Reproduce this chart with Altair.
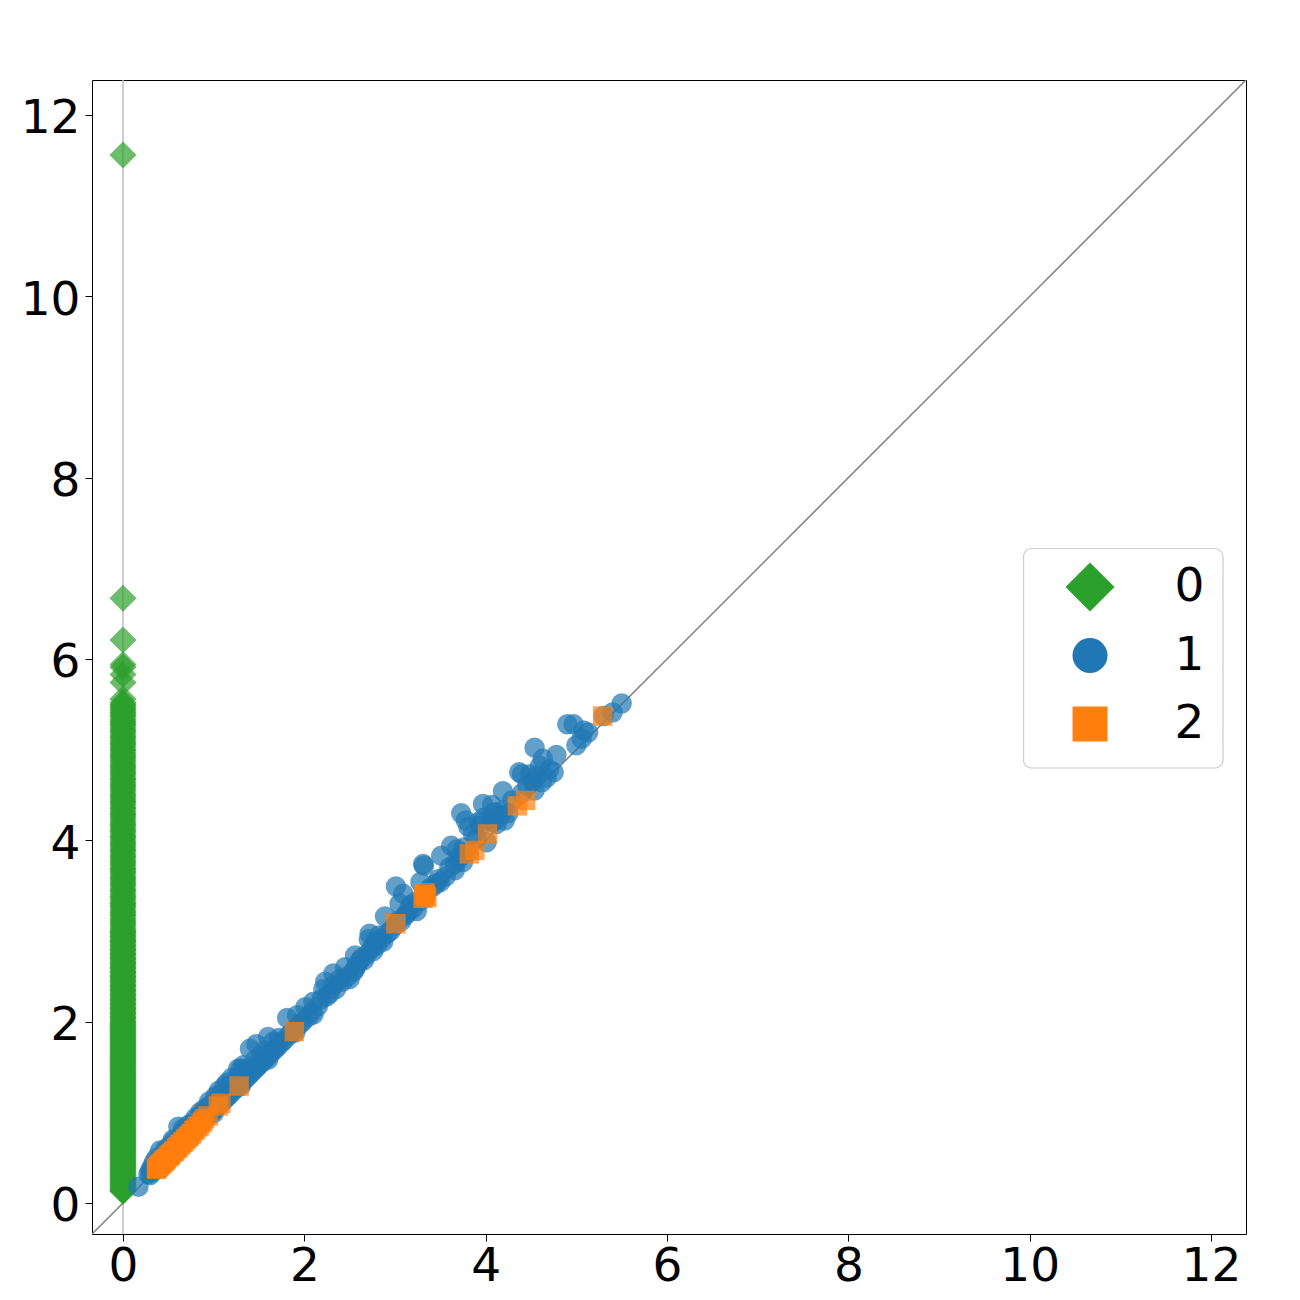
import altair as alt
import pandas as pd

XMIN, XMAX = -0.342, 12.386
TICKS = [0, 2, 4, 6, 8, 10, 12]
FONT = "DejaVu Sans"

green_y = [
 11.56, 6.67, 6.21, 5.94, 5.91, 5.83, 5.74, 5.56, 5.52, 5.49, 5.46, 5.43, 5.40, 5.37, 5.33, 5.30, 5.27, 5.23, 5.20, 5.16,
 5.13, 5.09, 5.06, 5.02, 4.99, 4.95, 4.92, 4.88, 4.84, 4.81, 4.77, 4.74, 4.70, 4.67, 4.63, 4.60, 4.56, 4.52, 4.49, 4.45,
 4.42, 4.38, 4.35, 4.31, 4.28, 4.24, 4.20, 4.17, 4.13, 4.10, 4.06, 4.03, 3.99, 3.96, 3.92, 3.89, 3.85, 3.82, 3.78, 3.75,
 3.71, 3.68, 3.65, 3.61, 3.58, 3.54, 3.51, 3.47, 3.44, 3.40, 3.37, 3.33, 3.30, 3.27, 3.23, 3.20, 3.17, 3.13, 3.10, 3.07,
 3.03, 3.00, 2.98, 2.95, 2.93, 2.90, 2.88, 2.85, 2.83, 2.80, 2.78, 2.75, 2.73, 2.70, 2.68, 2.65, 2.63, 2.60, 2.58, 2.55,
 2.53, 2.50, 2.48, 2.45, 2.43, 2.40, 2.38, 2.35, 2.33, 2.30, 2.28, 2.25, 2.23, 2.20, 2.18, 2.15, 2.13, 2.10, 2.08, 2.05,
 2.03, 2.00, 1.98, 1.96, 1.94, 1.92, 1.90, 1.88, 1.86, 1.84, 1.82, 1.80, 1.78, 1.76, 1.74, 1.72, 1.70, 1.68, 1.66, 1.64,
 1.62, 1.60, 1.58, 1.56, 1.54, 1.52, 1.50, 1.48, 1.46, 1.44, 1.42, 1.40, 1.38, 1.36, 1.34, 1.32, 1.30, 1.28, 1.26, 1.24,
 1.22, 1.20, 1.18, 1.16, 1.14, 1.12, 1.10, 1.08, 1.06, 1.04, 1.02, 1.00, 0.98, 0.96, 0.94, 0.92, 0.90, 0.88, 0.86, 0.84,
 0.82, 0.80, 0.78, 0.76, 0.74, 0.72, 0.70, 0.68, 0.66, 0.64, 0.62, 0.60, 0.58, 0.56, 0.54, 0.52, 0.50, 0.48, 0.46, 0.44,
 0.42, 0.40, 0.38, 0.36, 0.34, 0.32, 0.30, 0.28, 0.26, 0.24, 0.22, 0.20, 0.18, 0.16, 0.15, 0.14, 0.13, 0.13,
 2.99, 2.97, 2.94, 2.91, 2.89, 2.87, 2.84, 2.81, 2.79, 2.76, 2.74, 2.71, 2.69, 2.66, 2.64, 2.61, 2.59, 2.56, 2.54, 2.51,
 2.49, 2.46, 2.44, 2.41, 2.39, 2.36, 2.34, 2.31, 2.29, 2.26, 2.24, 2.21, 2.19, 2.16, 2.14, 2.11, 2.09, 2.06, 2.04, 2.01,
 1.99, 1.97, 1.95, 1.93, 1.91, 1.89, 1.87, 1.85, 1.83, 1.81, 1.79, 1.77, 1.75, 1.73, 1.71, 1.69, 1.67, 1.65, 1.63, 1.61,
 1.59, 1.57, 1.55, 1.53, 1.51, 1.49, 1.47, 1.45, 1.43, 1.41, 1.39, 1.37, 1.35, 1.33, 1.31, 1.29, 1.27, 1.25, 1.23, 1.21,
 1.19, 1.17, 1.15, 1.13, 1.11, 1.09, 1.07, 1.05, 1.03, 1.01, 0.99, 0.97, 0.95, 0.93, 0.91, 0.89, 0.87, 0.85, 0.83, 0.81,
 0.79, 0.77, 0.75, 0.73, 0.71, 0.69, 0.67, 0.65, 0.63, 0.61, 0.59, 0.57, 0.55, 0.53, 0.51, 0.49, 0.47, 0.45, 0.43, 0.41,
 0.39, 0.37, 0.35, 0.33, 0.31, 0.29, 0.27, 0.25, 0.23, 0.21, 0.19, 0.17,
 5.50, 5.47, 5.44, 5.41, 5.38, 5.35, 5.31, 5.28, 5.25, 5.21, 5.18, 5.14, 5.11, 5.07, 5.04, 5.00, 4.97, 4.93, 4.90, 4.86,
 4.82, 4.79, 4.75, 4.72, 4.68, 4.65, 4.61, 4.58, 4.54, 4.50, 4.47, 4.43, 4.40, 4.36, 4.33, 4.29, 4.26, 4.22, 4.18, 4.15,
 4.11, 4.08, 4.04, 4.01, 3.97, 3.94, 3.90, 3.87, 3.83, 3.80, 3.76, 3.73, 3.69, 3.66, 3.63, 3.59, 3.56, 3.52, 3.49, 3.45,
 3.42, 3.38, 3.35, 3.31, 3.28, 3.25, 3.21, 3.18, 3.15, 3.11, 3.08, 3.05, 3.01,
]

blue_x = [
 5.50, 5.40, 5.30, 4.90, 4.97, 5.13, 5.08, 5.06, 5.00, 4.54, 4.78, 4.63, 4.60, 4.37, 4.40, 4.75, 4.49, 4.56, 4.67, 4.62,
 4.54, 4.19, 3.97, 4.07, 4.29, 4.19, 4.10, 3.73, 3.78, 3.81, 3.94, 4.05, 4.21, 3.86, 4.01, 3.51, 3.62, 3.68, 3.72, 3.81,
 3.66, 3.75, 3.31, 3.32, 3.66, 3.48, 3.01, 3.28, 3.50, 3.09, 3.05, 3.17, 2.89, 3.24, 3.13, 3.07, 2.72, 2.71, 2.82, 2.78,
 2.87, 2.76, 2.56, 2.61, 2.56, 2.45, 2.32, 2.54, 2.39, 2.23, 2.21, 2.32, 2.10, 2.19, 2.01, 1.92, 1.81, 1.40, 1.47, 1.60,
 1.27, 1.12, 0.61, 0.41, 0.28, 0.17,
 2.15, 2.08, 2.04, 1.98, 1.95, 1.90, 1.86, 1.83, 1.78, 1.75, 1.71, 1.68, 1.65, 1.62, 1.58, 1.55, 1.52, 1.49, 1.46, 1.43,
 1.40, 1.37, 1.34, 1.31, 1.28, 1.25, 1.22, 1.19, 1.16, 1.13, 1.10, 1.07, 1.04, 1.01, 0.98, 0.95, 0.92, 0.89, 0.86, 0.83,
 0.80, 0.77, 0.74, 0.71, 0.68, 0.65, 0.62, 0.59, 0.56, 0.53, 0.50, 0.47, 0.44, 0.41, 0.38, 0.35, 0.32, 0.30,
 1.66, 1.56, 1.46, 1.36, 1.26, 1.16, 1.06, 0.96, 0.86, 0.76, 0.66, 0.56, 0.46, 1.72, 1.52, 1.34,
 2.25, 2.28, 2.35, 2.42, 2.48, 2.50, 2.58, 2.63, 2.66, 2.69, 2.74, 2.80, 2.85, 2.91, 2.95, 3.00, 3.03, 3.11, 3.15, 3.20,
 3.22, 3.28, 3.34, 3.38, 3.42, 3.45, 3.56, 3.60, 3.70, 3.76, 3.90, 3.92, 3.98, 4.08, 4.12, 4.16, 4.25, 4.40, 4.46, 4.52,
 4.70, 1.00, 1.30, 1.60, 1.90, 2.10, 0.60, 0.40, 0.50, 0.55, 0.66, 0.72, 0.80, 0.85, 0.90, 0.95, 1.02, 1.06, 1.15, 1.20,
 1.30, 1.33, 0.32, 0.30, 0.34, 0.37,
]
blue_y = [
 5.51, 5.41, 5.37, 5.28, 5.28, 5.19, 5.21, 5.12, 5.05, 5.02, 4.94, 4.90, 4.82, 4.75, 4.73, 4.75, 4.73, 4.71, 4.69, 4.64,
 4.55, 4.54, 4.40, 4.39, 4.44, 4.33, 4.31, 4.30, 4.22, 4.15, 4.16, 4.24, 4.22, 4.07, 3.98, 3.83, 3.94, 3.90, 3.83, 3.87,
 3.74, 3.76, 3.74, 3.72, 3.67, 3.57, 3.49, 3.54, 3.54, 3.41, 3.30, 3.28, 3.16, 3.22, 3.19, 3.11, 2.97, 2.91, 2.95, 2.88,
 2.88, 2.78, 2.73, 2.67, 2.58, 2.60, 2.53, 2.55, 2.47, 2.44, 2.36, 2.40, 2.22, 2.25, 2.16, 2.07, 2.04, 1.70, 1.75, 1.83,
 1.48, 1.29, 0.84, 0.58, 0.32, 0.18,
 2.17, 2.10, 2.05, 2.00, 1.97, 1.92, 1.88, 1.85, 1.80, 1.77, 1.73, 1.70, 1.67, 1.64, 1.60, 1.57, 1.54, 1.51, 1.48, 1.45,
 1.42, 1.39, 1.36, 1.33, 1.30, 1.27, 1.24, 1.21, 1.18, 1.15, 1.12, 1.09, 1.06, 1.03, 1.00, 0.97, 0.94, 0.91, 0.88, 0.85,
 0.82, 0.79, 0.76, 0.73, 0.70, 0.67, 0.64, 0.61, 0.58, 0.55, 0.52, 0.49, 0.46, 0.43, 0.40, 0.37, 0.34, 0.31,
 1.78, 1.68, 1.58, 1.48, 1.38, 1.28, 1.18, 1.08, 0.98, 0.88, 0.78, 0.68, 0.58, 1.82, 1.62, 1.46,
 2.28, 2.31, 2.36, 2.44, 2.50, 2.47, 2.62, 2.70, 2.68, 2.74, 2.81, 2.84, 2.91, 2.97, 3.00, 3.06, 3.11, 3.17, 3.23, 3.25,
 3.32, 3.33, 3.42, 3.47, 3.49, 3.52, 3.60, 3.70, 3.79, 3.92, 4.02, 4.20, 4.25, 4.20, 4.18, 4.27, 4.30, 4.52, 4.60, 4.65,
 4.78, 0.99, 1.29, 1.58, 1.88, 2.08, 0.58, 0.38, 0.62, 0.70, 0.82, 0.86, 0.94, 1.00, 1.04, 1.12, 1.18, 1.24, 1.33, 1.38,
 1.48, 1.52, 0.40, 0.36, 0.45, 0.50,
]

orange_x = [
 5.29, 4.44, 4.35, 4.02, 3.88, 3.82, 3.34, 3.33, 3.31, 3.35, 3.32, 3.01, 1.89, 1.28, 1.08, 1.05, 0.94, 0.90, 0.88, 0.86,
 0.84, 0.82, 0.80, 0.78, 0.76, 0.75, 0.73, 0.72, 0.70, 0.69, 0.67, 0.66, 0.64, 0.63, 0.61, 0.60, 0.59, 0.57, 0.56, 0.55,
 0.53, 0.52, 0.51, 0.50, 0.48, 0.47, 0.46, 0.45, 0.44, 0.43, 0.42, 0.41, 0.40, 0.39, 0.38, 0.37, 0.37,
]
orange_y = [
 5.37, 4.44, 4.38, 4.07, 3.89, 3.85, 3.39, 3.42, 3.36, 3.37, 3.40, 3.08, 1.89, 1.29, 1.10, 1.07, 0.96, 0.93, 0.90, 0.88,
 0.85, 0.84, 0.81, 0.80, 0.77, 0.76, 0.74, 0.73, 0.71, 0.70, 0.68, 0.67, 0.65, 0.64, 0.62, 0.61, 0.60, 0.58, 0.57, 0.56,
 0.54, 0.53, 0.52, 0.51, 0.49, 0.48, 0.47, 0.46, 0.45, 0.44, 0.43, 0.42, 0.41, 0.40, 0.39, 0.38, 0.37,
]

classes = ["0", "1", "2"]
class_colors = ["#2ca02c", "#1f77b4", "#ff7f0e"]
class_shapes = ["diamond", "circle", "square"]
legend_sizes = [2401, 1225, 1225]

x_enc = alt.X("x:Q", scale=alt.Scale(domain=[XMIN, XMAX], nice=False, zero=False),
              axis=alt.Axis(values=TICKS, title=None, grid=False, domain=False, tickSize=7, tickColor="black",
                            tickWidth=1, labelFontSize=47, labelFont=FONT, labelColor="black", labelPadding=2,
                            labelFlush=False, labelOverlap=False, format="d"))
y_enc = alt.Y("y:Q", scale=alt.Scale(domain=[XMIN, XMAX], nice=False, zero=False),
              axis=alt.Axis(values=TICKS, title=None, grid=False, domain=False, tickSize=7, tickColor="black",
                            tickWidth=1, labelFontSize=47, labelFont=FONT, labelColor="black", labelPadding=5,
                            labelOffset=4, labelOverlap=False, format="d"))

diag = alt.Chart(pd.DataFrame({"x": [XMIN, XMAX], "y": [XMIN, XMAX]})).mark_line(
    color="#7f7f7f", strokeWidth=1.5, clip=True).encode(x=x_enc, y=y_enc)
vert = alt.Chart(pd.DataFrame({"x": [0, 0], "y": [XMIN, XMAX]})).mark_line(
    color="#bdbdbd", strokeWidth=1.5, clip=True).encode(x=x_enc, y=y_enc)


def points(xs, ys, shape, color, size):
    return alt.Chart(pd.DataFrame({"x": xs, "y": ys})).mark_point(
        shape=shape, filled=True, color=color, size=size, opacity=0.7, strokeWidth=0
    ).encode(x=x_enc, y=y_enc)


green = points([0] * len(green_y), green_y, "diamond", "#2ca02c", 729)
blue = points(blue_x, blue_y, "circle", "#1f77b4", 420)
orange = points(orange_x, orange_y, "square", "#ff7f0e", 380)

frame = alt.Chart(pd.DataFrame({"k": [0]})).mark_rect(
    fill="white", stroke="#cccccc", strokeWidth=1.2, cornerRadius=8
).encode(x=alt.value(931.5), x2=alt.value(1131), y=alt.value(468.5), y2=alt.value(688))

legend_layer = alt.Chart(pd.DataFrame({"cls": classes})).transform_filter("false").mark_point(
    filled=True, strokeWidth=0, opacity=1
).encode(
    color=alt.Color("cls:N", scale=alt.Scale(domain=classes, range=class_colors), legend=alt.Legend(
        orient="none", legendX=973.5, legendY=481, title=None, padding=0, labelFontSize=47,
        labelFont=FONT, labelColor="black", labelOffset=60, rowPadding=16.5, clipHeight=52,
        symbolOpacity=1, symbolStrokeWidth=0, zindex=1)),
    shape=alt.Shape("cls:N", scale=alt.Scale(domain=classes, range=class_shapes)),
    size=alt.Size("cls:N", scale=alt.Scale(type="ordinal", domain=classes, range=legend_sizes)),
)

chart = alt.layer(vert, diag, green, blue, orange, frame, legend_layer).properties(
    width=1154, height=1154, padding={"left": 12, "top": 72, "right": 5, "bottom": 5}, background="white"
).configure_view(stroke="black", strokeWidth=1)

chart.save("out.html", embed_options={"renderer": "svg", "actions": False})
